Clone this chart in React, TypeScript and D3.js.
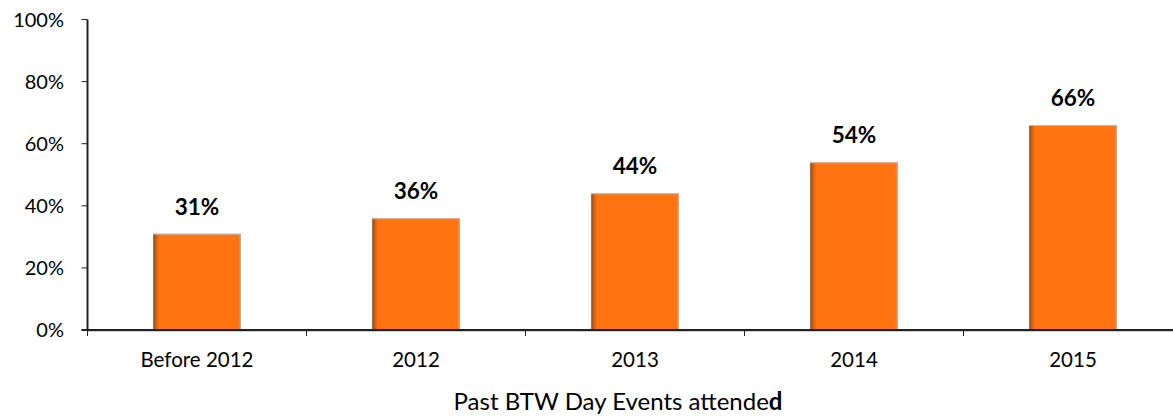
import React from "react";
import * as d3 from "d3";

const categories = ["Before 2012", "2012", "2013", "2014", "2015"];
const values = [31, 36, 44, 54, 66];
const yTicks = [0, 20, 40, 60, 80, 100];

const W = 1173;
const H = 416;
const x0 = 87.5;
const step = 219;
const yTop = 19.5;
const yBottom = 330;

export default function App() {
  const x = d3
    .scaleBand<string>()
    .domain(categories)
    .range([x0, x0 + step * categories.length])
    .paddingInner(0.6)
    .paddingOuter(0.3);
  const xTick = d3
    .scaleBand<string>()
    .domain(categories)
    .range([x0, x0 + step * categories.length])
    .padding(0);
  const y = d3.scaleLinear().domain([0, 100]).range([yBottom, yTop]);
  const font = "Lato, 'Open Sans', sans-serif";
  const bw = x.bandwidth();

  return (
    <svg
      width={W}
      height={H}
      style={{ position: "absolute", left: 0, top: 0, background: "#fff" }}
      fontFamily={font}
    >
      <defs>
        <linearGradient id="barGrad" x1="0" x2="1" y1="0" y2="0">
          <stop offset="0" stopColor="#8a4a1a" />
          <stop offset={3 / 88} stopColor="#d9600c" />
          <stop offset={6 / 88} stopColor="#ff7410" />
          <stop offset={0.97} stopColor="#ff7410" />
          <stop offset={1} stopColor="#f58a40" />
        </linearGradient>
      </defs>
      {/* bars */}
      {categories.map((c, i) => (
        <g key={c}>
          <rect
            x={x(c)}
            y={y(values[i])}
            width={bw}
            height={yBottom - y(values[i])}
            fill="url(#barGrad)"
          />
          <line
            x1={x(c)!}
            x2={x(c)! + bw}
            y1={y(values[i]) + 0.5}
            y2={y(values[i]) + 0.5}
            stroke="#c9b8a8"
            strokeWidth={1}
          />
          <line
            x1={x(c)! + bw - 0.5}
            x2={x(c)! + bw - 0.5}
            y1={y(values[i])}
            y2={yBottom}
            stroke="#b9aaa0"
            strokeWidth={1}
          />
          <text
            x={x(c)! + bw / 2}
            y={y(values[i]) - 19}
            textAnchor="middle"
            fontSize={22.5}
            fontWeight="bold"
            fill="#000"
          >
            {values[i]}%
          </text>
        </g>
      ))}
      {/* y axis */}
      <line x1={x0} x2={x0} y1={yTop} y2={yBottom} stroke="#222" strokeWidth={2} />
      {yTicks.map((t) => (
        <g key={t}>
          <line x1={x0 - 6} x2={x0} y1={y(t)} y2={y(t)} stroke="#222" strokeWidth={1} />
          <text
            x={64}
            y={y(t)}
            dy="0.36em"
            textAnchor="end"
            fontSize={20}
            fill="#000"
          >
            {t}%
          </text>
        </g>
      ))}
      {/* x axis */}
      <line x1={x0} x2={W} y1={yBottom + 1.5} y2={yBottom + 1.5} stroke="#d0d0d0" strokeWidth={1} />
      <line x1={x0 - 6} x2={W} y1={yBottom} y2={yBottom} stroke="#222" strokeWidth={2} />
      {categories.map((c) => (
        <line
          key={"t" + c}
          x1={xTick(c)!}
          x2={xTick(c)!}
          y1={yBottom}
          y2={yBottom + 6}
          stroke="#222"
          strokeWidth={1}
        />
      ))}
      {categories.map((c) => (
        <text
          key={"l" + c}
          x={xTick(c)! + xTick.bandwidth() / 2}
          y={367}
          textAnchor="middle"
          fontSize={20.5}
          fill="#000"
        >
          {c}
        </text>
      ))}
      <text x={618} y={410} textAnchor="middle" fontSize={24} fill="#000">
        Past BTW Day Events attende<tspan fontWeight="bold">d</tspan>
      </text>
    </svg>
  );
}
